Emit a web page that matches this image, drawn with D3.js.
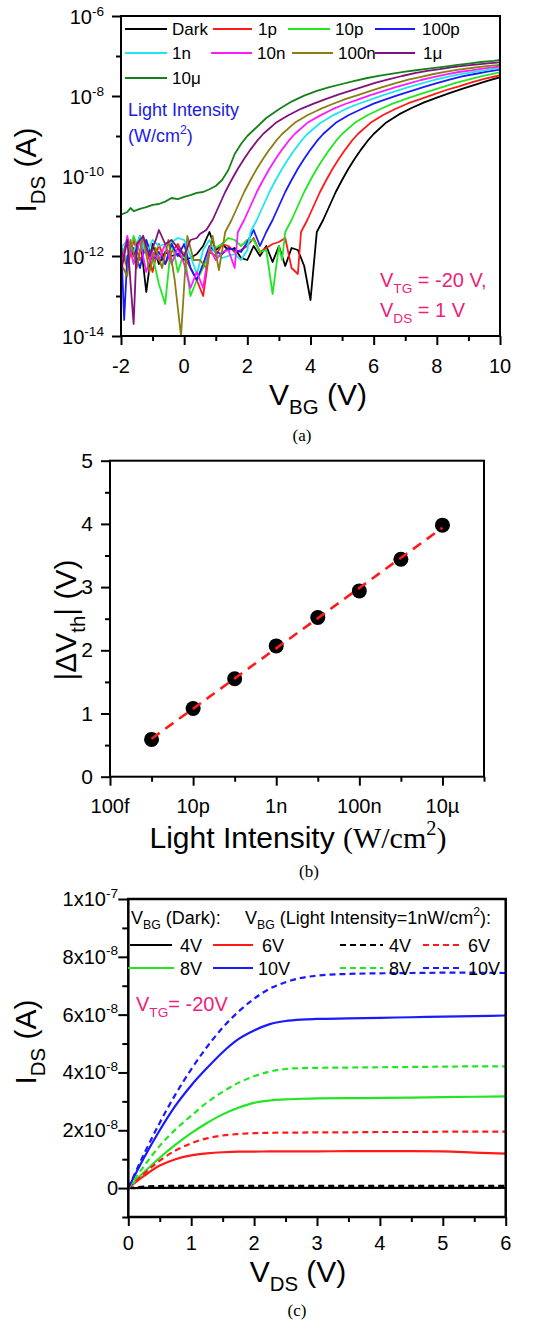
<!DOCTYPE html>
<html><head><meta charset="utf-8">
<script src="https://cdn.jsdelivr.net/npm/d3@7"></script>
<style>
body{margin:0;background:#fff}
svg{display:block}
svg{font-family:"Liberation Sans",Arial,Helvetica,sans-serif}
</style>
</head><body><svg id="c" width="546" height="1322"></svg>
<script>
// ================= DATA =================
// Panel (a): I_DS vs V_BG, pairs [V_BG (V), log10(I_DS / A)]
const ivDark = [[-2.0,-12.1],[-1.8,-11.6],[-1.6,-12.0],[-1.4,-11.5],[-1.2,-12.9],[-1.0,-11.7],[-0.8,-12.2],[-0.6,-11.9],[-0.4,-12.0],[-0.2,-11.95],[0.0,-12.1],[0.2,-12.05],[0.4,-11.95],[0.6,-11.75],[0.8,-11.4],[1.0,-11.85],[1.2,-11.7],[1.4,-11.85],[1.6,-11.8],[1.8,-12.05],[2.0,-12.1],[2.2,-11.75],[2.4,-12.0],[2.6,-11.75],[2.8,-12.15],[3.0,-11.75],[3.2,-12.25],[3.4,-11.8],[3.6,-11.85],[3.8,-12.25],[4.0,-13.1],[4.2,-11.4],[4.4,-11.1],[4.6,-10.75],[4.8,-10.4],[5.0,-10.1],[5.2,-9.82],[5.4,-9.57],[5.6,-9.34],[5.8,-9.13],[6.0,-8.95],[6.4,-8.66],[6.8,-8.46],[7.2,-8.3],[7.6,-8.16],[8.0,-8.04],[8.4,-7.93],[8.8,-7.82],[9.2,-7.72],[9.6,-7.62],[10.0,-7.53]];
const iv1p = [[-2.0,-11.8],[-1.8,-12.3],[-1.6,-11.6],[-1.4,-12.1],[-1.2,-11.8],[-1.0,-12.4],[-0.8,-11.7],[-0.6,-12.2],[-0.4,-11.9],[-0.2,-11.7],[0.0,-12.0],[0.2,-12.3],[0.4,-12.6],[0.6,-13.0],[0.8,-11.9],[1.0,-12.0],[1.2,-11.7],[1.4,-11.75],[1.6,-11.9],[1.8,-11.85],[2.0,-11.75],[2.2,-11.55],[2.4,-11.9],[2.6,-11.8],[2.8,-11.7],[3.0,-11.65],[3.2,-11.55],[3.4,-12.3],[3.6,-12.45],[3.7,-11.4],[3.9,-11.1],[4.1,-10.75],[4.3,-10.4],[4.5,-10.1],[4.7,-9.82],[4.9,-9.57],[5.1,-9.34],[5.3,-9.13],[5.5,-8.95],[5.9,-8.67],[6.3,-8.475],[6.7,-8.32],[7.1,-8.18],[7.5,-8.07],[7.9,-7.96],[8.3,-7.85],[8.7,-7.76],[9.1,-7.66],[9.5,-7.57],[9.9,-7.5],[10.0,-7.48]];
const iv10p = [[-2.0,-11.7],[-1.8,-12.2],[-1.6,-11.5],[-1.4,-11.9],[-1.2,-11.6],[-1.0,-12.0],[-0.8,-12.7],[-0.6,-13.2],[-0.4,-11.6],[-0.2,-12.4],[0.0,-11.9],[0.2,-13.0],[0.4,-12.6],[0.6,-12.3],[0.8,-11.9],[1.0,-11.8],[1.2,-11.7],[1.4,-11.55],[1.6,-11.6],[1.8,-11.75],[2.0,-11.6],[2.2,-11.6],[2.4,-11.9],[2.6,-11.85],[2.8,-12.95],[3.0,-11.75],[3.1,-12.1],[3.2,-11.4],[3.4,-11.1],[3.6,-10.75],[3.8,-10.4],[4.0,-10.1],[4.2,-9.82],[4.4,-9.57],[4.6,-9.34],[4.8,-9.13],[5.0,-8.95],[5.4,-8.67],[5.8,-8.48],[6.2,-8.33],[6.6,-8.19],[7.0,-8.08],[7.4,-7.97],[7.8,-7.87],[8.2,-7.77],[8.6,-7.67],[9.0,-7.59],[9.4,-7.51],[9.8,-7.44],[10.0,-7.41]];
const iv100p = [[-2.0,-11.6],[-1.9,-13.6],[-1.8,-12.0],[-1.6,-11.8],[-1.4,-12.3],[-1.2,-11.6],[-1.0,-12.1],[-0.8,-11.9],[-0.6,-12.2],[-0.4,-11.7],[-0.2,-12.0],[0.0,-11.7],[0.2,-12.3],[0.4,-12.6],[0.6,-12.2],[0.8,-11.75],[1.0,-11.9],[1.2,-11.95],[1.4,-11.8],[1.6,-11.85],[1.8,-11.9],[2.0,-11.65],[2.2,-11.35],[2.4,-11.75],[2.6,-11.4],[2.8,-11.1],[3.0,-10.75],[3.2,-10.4],[3.4,-10.1],[3.6,-9.82],[3.8,-9.57],[4.0,-9.34],[4.2,-9.13],[4.4,-8.95],[4.8,-8.67],[5.2,-8.48],[5.6,-8.33],[6.0,-8.19],[6.4,-8.08],[6.8,-7.97],[7.2,-7.87],[7.6,-7.77],[8.0,-7.68],[8.4,-7.59],[8.8,-7.51],[9.2,-7.45],[9.6,-7.39],[10.0,-7.34]];
const iv1n = [[-2.0,-11.8],[-1.8,-11.6],[-1.6,-11.9],[-1.4,-11.5],[-1.2,-11.95],[-1.0,-11.6],[-0.8,-11.75],[-0.6,-11.7],[-0.4,-11.65],[-0.2,-11.55],[0.0,-11.6],[0.2,-12.0],[0.4,-12.45],[0.6,-11.85],[0.8,-11.6],[1.0,-11.95],[1.2,-12.05],[1.4,-12.0],[1.6,-11.95],[1.8,-12.1],[2.0,-11.85],[2.1,-11.4],[2.3,-11.1],[2.5,-10.75],[2.7,-10.4],[2.9,-10.1],[3.1,-9.82],[3.3,-9.57],[3.5,-9.34],[3.7,-9.13],[3.9,-8.95],[4.3,-8.68],[4.7,-8.49],[5.1,-8.33],[5.5,-8.2],[5.9,-8.09],[6.3,-7.98],[6.7,-7.88],[7.1,-7.78],[7.5,-7.69],[7.9,-7.6],[8.3,-7.53],[8.7,-7.46],[9.1,-7.41],[9.5,-7.36],[9.9,-7.31],[10.0,-7.30]];
const iv10n = [[-2.0,-12.3],[-1.8,-11.5],[-1.6,-12.2],[-1.4,-11.6],[-1.2,-12.4],[-1.0,-11.9],[-0.8,-12.1],[-0.6,-11.7],[-0.4,-12.2],[-0.2,-11.8],[0.0,-12.2],[0.2,-12.8],[0.4,-12.4],[0.6,-12.8],[0.8,-11.8],[1.0,-12.1],[1.2,-11.9],[1.4,-11.85],[1.6,-12.3],[1.7,-11.4],[1.9,-11.1],[2.1,-10.75],[2.3,-10.4],[2.5,-10.1],[2.7,-9.82],[2.9,-9.57],[3.1,-9.34],[3.3,-9.13],[3.5,-8.95],[3.9,-8.67],[4.3,-8.49],[4.7,-8.33],[5.1,-8.2],[5.5,-8.09],[5.9,-7.98],[6.3,-7.88],[6.7,-7.78],[7.1,-7.69],[7.5,-7.6],[7.9,-7.53],[8.3,-7.46],[8.7,-7.4],[9.1,-7.36],[9.5,-7.31],[9.9,-7.27],[10.0,-7.26]];
const iv100n = [[-2.0,-12.2],[-1.8,-12.5],[-1.7,-11.6],[-1.5,-12.3],[-1.3,-11.5],[-1.1,-12.4],[-0.9,-11.8],[-0.7,-12.3],[-0.5,-11.6],[-0.3,-12.6],[-0.1,-14.0],[0.1,-11.5],[0.3,-12.1],[0.5,-12.1],[0.7,-12.3],[0.9,-11.5],[1.1,-12.35],[1.3,-11.4],[1.5,-11.1],[1.7,-10.75],[1.9,-10.4],[2.1,-10.1],[2.3,-9.82],[2.5,-9.57],[2.7,-9.34],[2.9,-9.13],[3.1,-8.95],[3.5,-8.67],[3.9,-8.48],[4.3,-8.33],[4.7,-8.2],[5.1,-8.08],[5.5,-7.98],[5.9,-7.87],[6.3,-7.77],[6.7,-7.68],[7.1,-7.59],[7.5,-7.52],[7.9,-7.45],[8.3,-7.39],[8.7,-7.34],[9.1,-7.3],[9.5,-7.26],[9.9,-7.23],[10.0,-7.22]];
const iv1u = [[-2.0,-12.4],[-1.8,-11.6],[-1.6,-13.7],[-1.5,-11.7],[-1.3,-11.5],[-1.1,-12.0],[-0.9,-11.6],[-0.8,-11.35],[-0.6,-11.7],[-0.4,-11.6],[-0.2,-11.8],[0.0,-12.0],[0.2,-11.6],[0.4,-11.55],[0.5,-11.45],[0.7,-11.35],[0.9,-11.1],[1.1,-10.75],[1.3,-10.4],[1.5,-10.1],[1.7,-9.82],[1.9,-9.57],[2.1,-9.34],[2.3,-9.13],[2.5,-8.95],[2.9,-8.67],[3.3,-8.48],[3.7,-8.32],[4.1,-8.19],[4.5,-8.07],[4.9,-7.96],[5.3,-7.86],[5.7,-7.76],[6.1,-7.66],[6.5,-7.58],[6.9,-7.5],[7.3,-7.43],[7.7,-7.37],[8.1,-7.33],[8.5,-7.28],[8.9,-7.24],[9.3,-7.21],[9.7,-7.18],[10.0,-7.16]];
const iv10u = [[-2.0,-10.97],[-1.8,-10.9],[-1.7,-10.8],[-1.6,-10.88],[-1.4,-10.82],[-1.2,-10.78],[-1.0,-10.72],[-0.8,-10.7],[-0.6,-10.64],[-0.4,-10.55],[-0.2,-10.58],[0.0,-10.52],[0.2,-10.48],[0.4,-10.42],[0.6,-10.4],[0.8,-10.33],[1.0,-10.25],[1.2,-10.1],[1.4,-9.85],[1.6,-9.45],[1.8,-9.2],[2.0,-9.0],[2.2,-8.85],[2.6,-8.55],[3.0,-8.33],[3.4,-8.14],[3.8,-7.99],[4.2,-7.87],[4.6,-7.78],[5.0,-7.7],[5.4,-7.62],[5.8,-7.55],[6.2,-7.49],[6.6,-7.44],[7.0,-7.39],[7.4,-7.35],[7.8,-7.31],[8.2,-7.27],[8.6,-7.23],[9.0,-7.19],[9.4,-7.15],[9.8,-7.12],[10.0,-7.1]];
const seriesA = [
  {name:"Dark", color:"#000000", data:ivDark},
  {name:"1p",   color:"#ff1a1a", data:iv1p},
  {name:"10p",  color:"#22e622", data:iv10p},
  {name:"100p", color:"#1a1aff", data:iv100p},
  {name:"1n",   color:"#1ee6f0", data:iv1n},
  {name:"10n",  color:"#ff1aff", data:iv10n},
  {name:"100n", color:"#8a7d12", data:iv100n},
  {name:"1\u03bc", color:"#80127f", data:iv1u},
  {name:"10\u03bc",color:"#16801a", data:iv10u}
];
const xTicksA = [-2,0,2,4,6,8,10];
const xMinorA = [-1,1,3,5,7,9];
const yTicksA = [1e-14,1e-12,1e-10,1e-8,1e-6];
const yExpA = ["-14","-12","-10","-8","-6"];
const yMinorA = [1e-13,1e-11,1e-9,1e-7];

// Panel (b): |dVth| vs light intensity
const intensityB = [1e-12,1e-11,1e-10,1e-9,1e-8,1e-7,1e-6,1e-5];
const dVthB = [0.59,1.08,1.55,2.07,2.52,2.94,3.44,3.98];
const fitXB = [1e-12,1e-5];
const fitYB = [0.60,3.94];
const xTicksB = [1e-13,1e-11,1e-9,1e-7,1e-5];
const xLabelsB = ["100f","10p","1n","100n","10\u00b5"];
const xMinorB = [1e-12,1e-10,1e-8,1e-6,1e-4];
const yTicksB = [0,1,2,3,4,5];
const yMinorB = [0.5,1.5,2.5,3.5,4.5];

// Panel (c): output curves, I_DS in units of 1e-8 A
const vdsC = [0,0.25,0.5,0.75,1.0,1.25,1.5,1.75,2.0,2.25,2.5,2.75,3.0,3.5,4.0,4.5,5.0,5.5,6.0];
const dark4V  = [0,0.01,0.01,0.01,0.01,0.01,0.01,0.01,0.01,0.01,0.01,0.01,0.01,0.01,0.01,0.01,0.01,0.01,0.01];
const dark6V  = [0,0.42,0.78,1.0,1.13,1.2,1.24,1.26,1.26,1.27,1.27,1.27,1.27,1.28,1.28,1.28,1.27,1.23,1.19];
const dark8V  = [0,0.55,1.05,1.5,1.9,2.25,2.55,2.78,2.95,3.03,3.07,3.09,3.1,3.11,3.12,3.13,3.15,3.16,3.17];
const dark10V = [0,1.05,2.0,2.85,3.55,4.15,4.7,5.15,5.45,5.67,5.78,5.83,5.85,5.87,5.89,5.91,5.93,5.95,5.97];
const light4V  = [0,0.05,0.07,0.08,0.08,0.08,0.08,0.08,0.08,0.08,0.08,0.08,0.08,0.08,0.08,0.08,0.08,0.08,0.08];
const light6V  = [0,0.5,0.95,1.3,1.55,1.72,1.82,1.87,1.9,1.91,1.92,1.92,1.93,1.93,1.94,1.94,1.95,1.95,1.95];
const light8V  = [0,0.76,1.46,2.03,2.5,2.96,3.33,3.64,3.87,4.03,4.12,4.15,4.16,4.17,4.18,4.19,4.2,4.21,4.21];
const light10V = [0,1.18,2.26,3.24,4.11,4.88,5.55,6.1,6.55,6.9,7.12,7.27,7.35,7.41,7.43,7.44,7.45,7.45,7.44];
const seriesC = [
  {label:"4V",  color:"#000000", dash:false, vals:dark4V},
  {label:"6V",  color:"#ff1a1a", dash:false, vals:dark6V},
  {label:"8V",  color:"#22e622", dash:false, vals:dark8V},
  {label:"10V", color:"#1a1aff", dash:false, vals:dark10V},
  {label:"4V",  color:"#000000", dash:true,  vals:light4V},
  {label:"6V",  color:"#ff1a1a", dash:true,  vals:light6V},
  {label:"8V",  color:"#22e622", dash:true,  vals:light8V},
  {label:"10V", color:"#1a1aff", dash:true,  vals:light10V}
];
const xTicksC = [0,1,2,3,4,5,6];
const xMinorC = [0.5,1.5,2.5,3.5,4.5,5.5];
const yTicksC = [0,2,4,6,8,10];
const yLabelsC = [["0",""],["2x10","-8"],["4x10","-8"],["6x10","-8"],["8x10","-8"],["1x10","-7"]];
const yMinorC = [-1,1,3,5,7,9];

// ================= DRAWING =================
const svg = d3.select("#c");
svg.append("rect").attr("width",546).attr("height",1322).attr("fill","#fff");
const SERIF = "'Liberation Serif','Times New Roman',serif";
const PINK = "#ec1f7a";

function rich(parent, x, y, parts, fs, anchor, fill) {
  const t = parent.append("text").attr("x",x).attr("y",y).attr("font-size",fs)
    .attr("text-anchor",anchor||"start").attr("fill",fill||"#000");
  let shift = 0;
  parts.forEach(p => {
    const arr = typeof p === "string" ? [p,""] : p;
    const s = arr[0], k = arr[1], fam = arr[2];
    const target = k==="sub" ? fs*0.3 : k==="sup" ? -fs*0.42 : 0;
    const ts = t.append("tspan").text(s).attr("dy", target - shift);
    if (k) ts.attr("font-size", fs*0.68);
    if (fam) ts.style("font-family", fam);
    shift = target;
  });
  return t;
}
function styleTicks(s){ s.select(".domain").remove(); s.selectAll("line").attr("stroke","#000").attr("stroke-width",2); }
function ticksBottom(scale, y, vals, len){
  svg.append("g").attr("transform",`translate(0,${y})`)
    .call(d3.axisBottom(scale).tickValues(vals).tickSize(len).tickFormat("")).call(styleTicks);
}
function ticksLeft(scale, x, vals, len){
  svg.append("g").attr("transform",`translate(${x},0)`)
    .call(d3.axisLeft(scale).tickValues(vals).tickSize(len).tickFormat("")).call(styleTicks);
}
function frame(P, w){
  svg.append("rect").attr("x",P.l).attr("y",P.t).attr("width",P.r-P.l).attr("height",P.b-P.t)
    .attr("fill","none").attr("stroke","#000").attr("stroke-width",w||2);
}
function clip(id, P){
  svg.append("clipPath").attr("id",id).append("rect").attr("x",P.l).attr("y",P.t).attr("width",P.r-P.l).attr("height",P.b-P.t);
}
function caption(x, y, s){
  svg.append("text").attr("x",x).attr("y",y).attr("font-size",17).attr("text-anchor","middle")
    .style("font-family",SERIF).text(s);
}

// ---------- Panel (a) ----------
const A = {l:121, r:500, t:16, b:336};
const xA = d3.scaleLinear().domain([-2,10]).range([A.l,A.r]);
const yA = d3.scaleLog().domain([1e-14,1e-6]).range([A.b,A.t]);
clip("clipA", A);
const gA = svg.append("g").attr("clip-path","url(#clipA)");
const lineA = d3.line().x(d=>xA(d[0])).y(d=>yA(Math.pow(10,d[1])));
seriesA.forEach(s => {
  gA.append("path").attr("d",lineA(s.data)).attr("fill","none").attr("stroke",s.color)
    .attr("stroke-width",1.8).attr("stroke-linejoin","round");
});
ticksBottom(xA, A.b, xTicksA, 9);
ticksBottom(xA, A.b, xMinorA, 5);
ticksLeft(yA, A.l, yTicksA, 9);
ticksLeft(yA, A.l, yMinorA, 5);
frame(A, 2);
xTicksA.forEach(v => svg.append("text").attr("x",xA(v)).attr("y",373).attr("font-size",20).attr("text-anchor","middle").text(v));
yTicksA.forEach((v,i) => rich(svg, 104, yA(v)+8, ["10",[yExpA[i],"sup"]], 20, "end"));
// legend (a)
const legA = [
  [0,125,167,172],[1,213,252,258],[2,288,330,335],[3,375,415,422],
  [4,125,167,172],[5,211,252,257],[6,292,333,338],[7,375,415,423],
  [8,125,167,172]
];
const legRowY = [29,29,29,29,53,53,53,53,78];
legA.forEach((L,i) => {
  const s = seriesA[L[0]], y = legRowY[i];
  svg.append("line").attr("x1",L[1]).attr("x2",L[2]).attr("y1",y).attr("y2",y).attr("stroke",s.color).attr("stroke-width",2);
  svg.append("text").attr("x",L[3]).attr("y",y+6).attr("font-size",17).text(s.name);
});
svg.append("text").attr("x",128).attr("y",116).attr("font-size",18).attr("fill","#1a1ae6").text("Light Intensity");
rich(svg, 128, 142, ["(W/cm",["2","sup"],")"], 18, "start", "#1a1ae6");
rich(svg, 380, 287, ["V",["TG","sub"]," = -20 V,"], 20, "start", PINK);
rich(svg, 380, 317, ["V",["DS","sub"]," = 1 V"], 20, "start", PINK);
rich(svg, 318, 405, ["V",["BG","sub"]," (V)"], 30, "middle");
{
  const g = svg.append("g").attr("transform","translate(36,170) rotate(-90)");
  rich(g, 0, 0, ["I",["DS","sub"]," (A)"], 30, "middle");
}
caption(302, 441, "(a)");

// ---------- Panel (b) ----------
const B = {l:110, r:484, t:460.7, b:776.7};
const xB = d3.scaleLog().domain([1e-13,1e-4]).range([B.l,B.r]);
const yB = d3.scaleLinear().domain([0,5]).range([B.b,B.t]);
ticksBottom(xB, B.b, xTicksB, 9);
ticksBottom(xB, B.b, xMinorB, 5);
ticksLeft(yB, B.l, yTicksB, 9);
ticksLeft(yB, B.l, yMinorB, 5);
frame(B, 2);
xTicksB.forEach((v,i) => svg.append("text").attr("x",xB(v)).attr("y",813).attr("font-size",20).attr("text-anchor","middle").text(xLabelsB[i]));
yTicksB.forEach(v => svg.append("text").attr("x",93).attr("y",yB(v)+7).attr("font-size",21).attr("text-anchor","end").text(v));
svg.selectAll(".dotB").data(intensityB).enter().append("circle")
  .attr("cx",(d)=>xB(d)).attr("cy",(d,i)=>yB(dVthB[i])).attr("r",7.5).attr("fill","#000");
svg.append("path").attr("d", d3.line().x(d=>xB(d[0])).y(d=>yB(d[1]))(fitXB.map((x,i)=>[x,fitYB[i]])))
  .attr("stroke","#ff1a1a").attr("stroke-width",2.6).attr("stroke-dasharray","10,7").attr("fill","none");
rich(svg, 298, 848, ["Light Intensity ",["(W/cm","",SERIF],["2","sup",SERIF],[")","",SERIF]], 30, "middle");
{
  const g = svg.append("g").attr("transform","translate(76,620) rotate(-90)");
  rich(g, 0, 0, ["|\u0394V",["th","sub"],"| (V)"], 30, "middle");
}
caption(309, 877, "(b)");

// ---------- Panel (c) ----------
const C = {l:128.3, r:505.7, t:899, b:1217};
const xC = d3.scaleLinear().domain([0,6]).range([C.l,C.r]);
const yC = d3.scaleLinear().domain([-1,10]).range([C.b,C.t]);
clip("clipC", C);
const gC = svg.append("g").attr("clip-path","url(#clipC)");
const lineC = d3.line().x((d,i)=>xC(vdsC[i])).y(d=>yC(d)).curve(d3.curveMonotoneX);
seriesC.forEach(s => {
  gC.append("path").attr("d",lineC(s.vals)).attr("fill","none").attr("stroke",s.color)
    .attr("stroke-width",2.2).attr("stroke-dasharray", s.dash ? "6,4" : null);
});
ticksBottom(xC, C.b, xTicksC, 9);
ticksBottom(xC, C.b, xMinorC, 5);
ticksLeft(yC, C.l, yTicksC, 10);
ticksLeft(yC, C.l, yMinorC, 6);
frame(C, 2.5);
xTicksC.forEach(v => svg.append("text").attr("x",xC(v)).attr("y",1250).attr("font-size",20).attr("text-anchor","middle").text(v));
yTicksC.forEach((v,i) => {
  const L = yLabelsC[i];
  rich(svg, 118, yC(v)+7, L[1] ? [L[0],[L[1],"sup"]] : [L[0]], 20, "end");
});
// legend (c)
rich(svg, 131, 924, ["V",["BG","sub"]," (Dark):"], 18, "start");
rich(svg, 245, 924, ["V",["BG","sub"]," (Light Intensity=1nW/cm",["2","sup"],"):"], 18, "start");
const legC = [
  [0,130,172,180,945],[1,213,253,262,945],[4,340,383,389,945],[5,423,461,468,945],
  [2,128,174,180,968],[3,213,253,258,968],[6,340,383,389,968],[7,423,461,468,968]
];
legC.forEach(L => {
  const s = seriesC[L[0]];
  svg.append("line").attr("x1",L[1]).attr("x2",L[2]).attr("y1",L[4]).attr("y2",L[4])
    .attr("stroke",s.color).attr("stroke-width",2.2).attr("stroke-dasharray", s.dash ? "6,4" : null);
  svg.append("text").attr("x",L[3]).attr("y",L[4]+7).attr("font-size",18).text(s.label);
});
rich(svg, 136, 1011, ["V",["TG","sub"],"= -20V"], 20, "start", PINK);
rich(svg, 298, 1282, ["V",["DS","sub"]," (V)"], 30, "middle");
{
  const g = svg.append("g").attr("transform","translate(36,1042) rotate(-90)");
  rich(g, 0, 0, ["I",["DS","sub"]," (A)"], 30, "middle");
}
caption(297, 1316, "(c)");
</script></body></html>
